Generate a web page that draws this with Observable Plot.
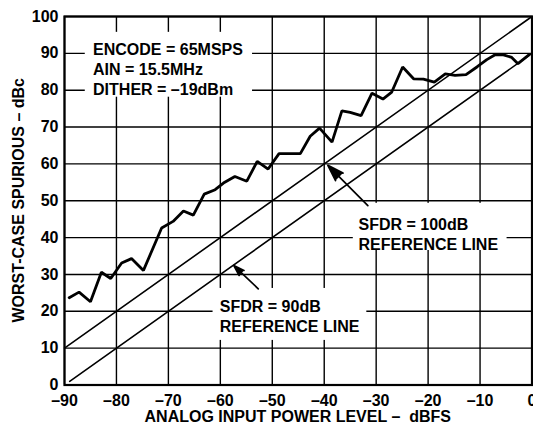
<!DOCTYPE html>
<html>
<head>
<meta charset="utf-8">
<script src="https://cdn.jsdelivr.net/npm/d3@7"></script>
<script src="https://cdn.jsdelivr.net/npm/@observablehq/plot@0.6"></script>
<style>
  html, body { margin: 0; padding: 0; background: #fff; }
  #chart { width: 533px; height: 425px; overflow: hidden; }
</style>
</head>
<body>
<div id="chart"></div>
<script>
// ---- data ----
const inputLevel = [-89.1, -87.2, -85.0, -82.9, -81.1, -79.0, -77.1, -74.8, -71.3, -69.1,
  -67.1, -65.2, -63.1, -61.0, -59.4, -57.2, -54.9, -52.9, -50.8, -48.7,
  -44.6, -42.7, -40.9, -38.5, -36.6, -35.0, -32.9, -30.8, -28.7, -27.0,
  -24.9, -22.8, -20.9, -18.8, -16.7, -14.8, -12.7, -10.6, -8.7, -7.1,
  -5.5, -3.9, -2.7, -0.6];
const spurious = [23.7, 25.2, 22.6, 30.6, 28.9, 33.1, 34.3, 31.1, 42.6, 44.4,
  47.2, 46.1, 51.8, 53.0, 54.8, 56.6, 55.3, 60.7, 58.6, 62.8,
  62.8, 67.5, 69.7, 65.9, 74.4, 74.0, 73.1, 79.2, 77.6, 79.5,
  86.3, 83.1, 83.0, 82.2, 84.4, 84.0, 84.2, 86.3, 88.3, 89.6,
  89.6, 88.9, 87.2, 89.6];

// reference lines (SFDR = 100 dB and 90 dB)
const ref100X = [-90, 0];
const ref100Y = [10, 100];
const ref90X = [-89, 0];
const ref90Y = [1, 90];

// ticks
const xTicks = [-90, -80, -70, -60, -50, -40, -30, -20, -10, 0];
const xTickLabels = ["–90", "–80", "–70", "–60", "–50", "–40", "–30", "–20", "–10", "0"];
const yTicks = [0, 10, 20, 30, 40, 50, 60, 70, 80, 90, 100];

// titles
const xTitle = "ANALOG INPUT POWER LEVEL –  dBFS";
const yTitle = "WORST-CASE SPURIOUS – dBc";

// annotations (data coordinates)
const noteText = ["ENCODE = 65MSPS\nAIN = 15.5MHz\nDITHER = –19dBm",
                  "SFDR = 100dB\nREFERENCE LINE",
                  "SFDR = 90dB\nREFERENCE LINE"];
const noteX = [-84.5, -33.4, -60.1];
const noteY = [93.5, 46.0, 23.7];
const boxX1 = [-86.0, -34.4, -61.4];
const boxX2 = [-53.8, -4.8, -31.8];
const boxY1 = [78.1, 36.5, 12.1];
const boxY2 = [95.7, 49.3, 26.2];
const arrowX1 = [-31.6, -52.7];
const arrowY1 = [48.7, 26.1];
const arrowX2 = [-39.3, -57.4];
const arrowY2 = [59.6, 32.4];

// ---- build ----
const series = inputLevel.map((x, i) => ({x, y: spurious[i]}));
const r100 = ref100X.map((x, i) => ({x, y: ref100Y[i]}));
const r90 = ref90X.map((x, i) => ({x, y: ref90Y[i]}));
const notes = noteText.map((t, i) => ({t, x: noteX[i], y: noteY[i]}));
const boxes = boxX1.map((x1, i) => ({x1, x2: boxX2[i], y1: boxY1[i], y2: boxY2[i]}));
const arrows = arrowX1.map((x1, i) => ({x1, y1: arrowY1[i], x2: arrowX2[i], y2: arrowY2[i]}));
const font = "'Liberation Sans', Arial, Helvetica, sans-serif";

const chart = Plot.plot({
  width: 533,
  height: 425,
  marginLeft: 64,
  marginRight: 1.5,
  marginTop: 16,
  marginBottom: 40.5,
  style: {fontFamily: font, fontWeight: "bold", fontSize: "16px", background: "#fff", color: "#000", overflow: "visible"},
  x: {domain: [-90, 0]},
  y: {domain: [0, 100]},
  marks: [
    Plot.gridX(xTicks, {stroke: "#000", strokeOpacity: 1, strokeWidth: 1.4}),
    Plot.gridY(yTicks, {stroke: "#000", strokeOpacity: 1, strokeWidth: 1.4}),
    Plot.rect(boxes, {x1: "x1", x2: "x2", y1: "y1", y2: "y2", fill: "#fff"}),
    Plot.line(r100, {x: "x", y: "y", stroke: "#000", strokeWidth: 1.6}),
    Plot.line(r90, {x: "x", y: "y", stroke: "#000", strokeWidth: 1.6}),
    Plot.line(series, {x: "x", y: "y", stroke: "#000", strokeWidth: 2.8, strokeLinejoin: "miter"}),
    Plot.arrow(arrows, {x1: "x1", y1: "y1", x2: "x2", y2: "y2", stroke: "#000", strokeWidth: 1.7, headLength: 15, headAngle: 36}),
    Plot.text(notes, {x: "x", y: "y", text: "t", textAnchor: "start", lineAnchor: "top", lineHeight: 1.25, fontSize: 16, fontWeight: "bold", fill: "#000"}),
    Plot.axisX(xTicks, {tickSize: 0, tickPadding: 9.5, tickFormat: (d, i) => xTickLabels[i], fontSize: 16, fontWeight: "bold", label: null}),
    Plot.axisY(yTicks, {tickSize: 0, tickPadding: 6, fontSize: 16, fontWeight: "bold", label: null}),
    Plot.frame({stroke: "#000", strokeWidth: 2.2})
  ]
});

// filled arrow heads
d3.select(chart).selectAll('g[aria-label="arrow"] path').attr("fill", "#000");

// axis titles
const svg = d3.select(chart);
svg.append("text")
  .attr("x", (64 + 531.5) / 2).attr("y", 422)
  .attr("text-anchor", "middle")
  .attr("font-family", font).attr("font-weight", "bold").attr("font-size", 16)
  .text(xTitle);
svg.append("text")
  .attr("transform", `translate(24, ${(16 + 384.5) / 2}) rotate(-90)`)
  .attr("text-anchor", "middle")
  .attr("font-family", font).attr("font-weight", "bold").attr("font-size", 16)
  .text(yTitle);

document.getElementById("chart").appendChild(chart);
</script>
</body>
</html>
